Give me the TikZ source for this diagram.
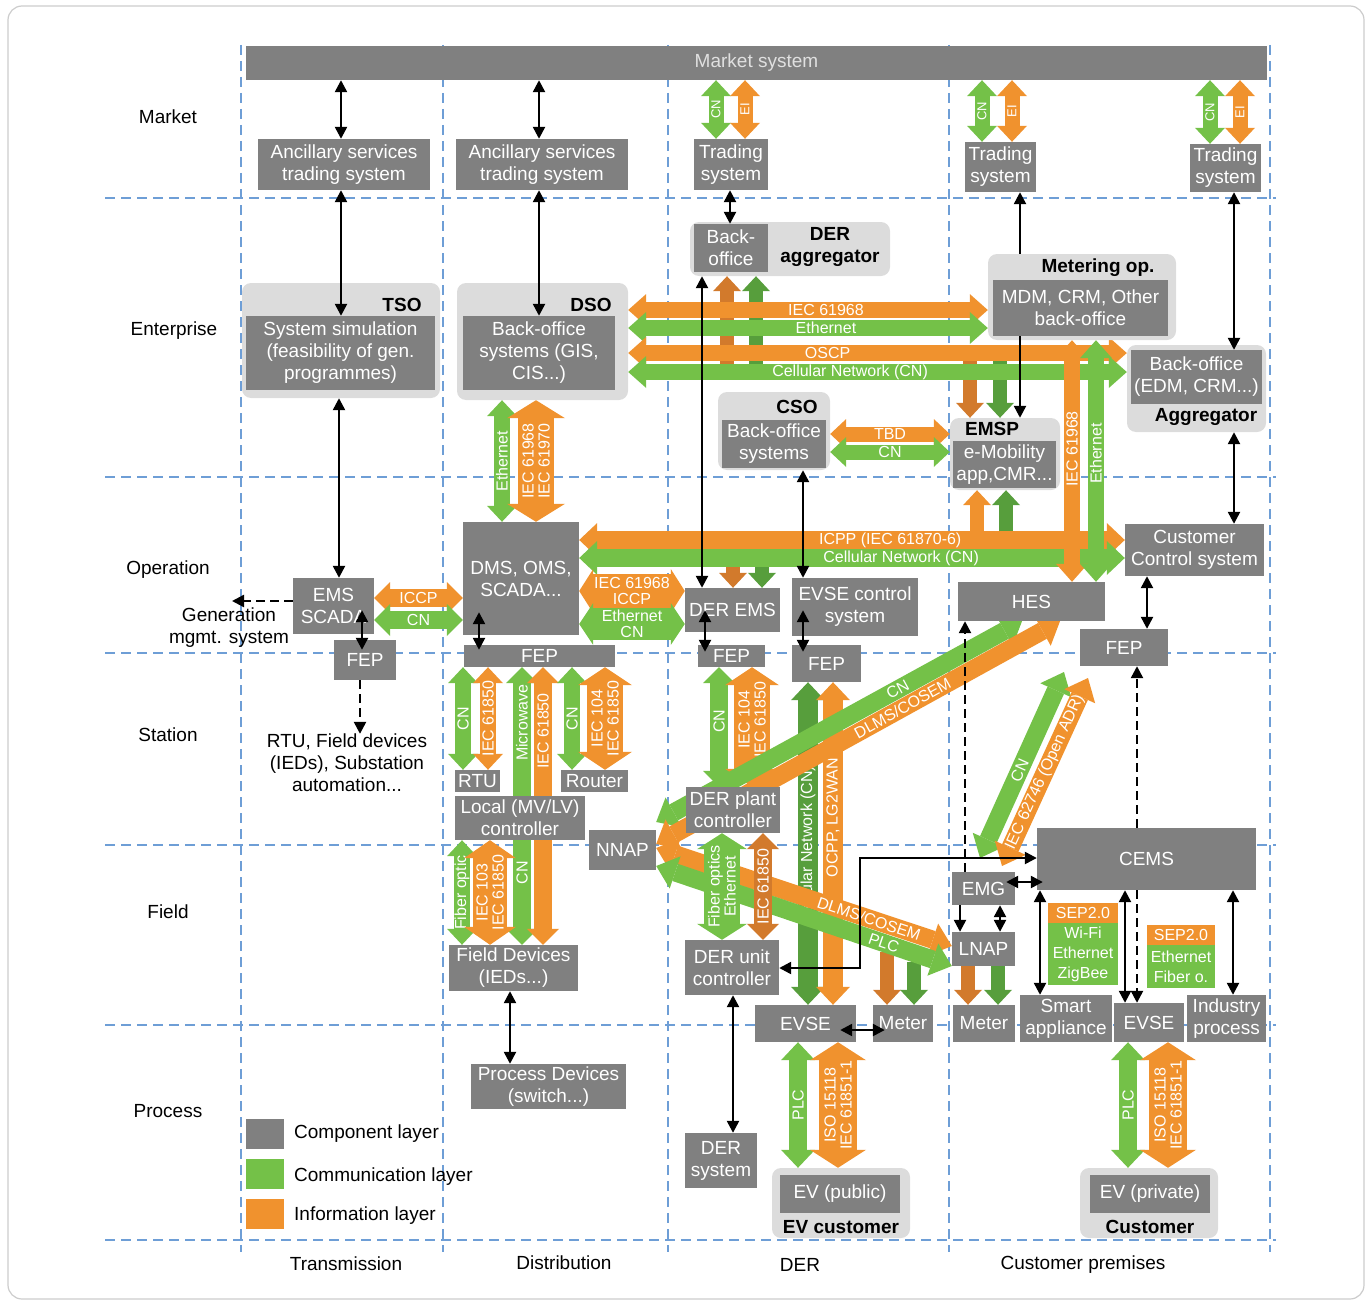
\documentclass[tikz,border=0pt]{standalone}
\usepackage{fontspec}
\setmainfont{Liberation Sans}
\usetikzlibrary{arrows.meta}
\pgfdeclarelayer{bg}
\pgfdeclarelayer{arr}
\pgfdeclarelayer{fg}
\pgfsetlayers{bg,arr,main,fg}
\definecolor{cgray}{HTML}{808080}
\definecolor{lgray}{HTML}{DCDCDC}
\definecolor{cor}{HTML}{F0922E}
\definecolor{corD}{HTML}{D27A2C}
\definecolor{cgr}{HTML}{74C148}
\definecolor{cgrD}{HTML}{579E3C}
\definecolor{gridblue}{HTML}{6E9ED6}
\newcommand\fszA{\fontsize{19}{22}\selectfont}
\newcommand\fszL{\fontsize{16}{16}\selectfont}
\newcommand\fszS{\fontsize{13}{13}\selectfont}
\newcommand\fszM{\fontsize{16}{20}\selectfont}
\tikzset{
  box/.style={fill=cgray, text=white, inner sep=0pt, align=center, font=\fszA},
  grp/.style={fill=lgray, rounded corners=9pt, inner sep=0pt},
  boldlbl/.style={font=\fszA\bfseries, text=black, inner sep=0pt, align=center},
  rowlbl/.style={font=\fszA, text=black, inner sep=0pt, align=center},
  blk/.style={line width=2.4pt, {Triangle[length=12pt,width=12pt]}-{Triangle[length=12pt,width=12pt]}},
  blks/.style={line width=2.4pt, -{Triangle[length=12pt,width=12pt]}},
  dsh/.style={line width=2.4pt, dash pattern=on 9pt off 5pt, -{Triangle[length=12pt,width=12pt]}},
  gridl/.style={draw=gridblue, line width=1.4pt, dash pattern=on 10pt off 6pt},
  ba/.style n args={3}{line width=#1, {Triangle[length=#3,width=#2,line width=0pt]}-{Triangle[length=#3,width=#2,line width=0pt]}},
  bs/.style n args={3}{line width=#1, -{Triangle[length=#3,width=#2,line width=0pt]}},
  lab/.style={sloped, font=\fszL, text=white, inner sep=0pt, align=center},
}
\newcommand\bx[7][]{\node[box,#1, minimum width={#5-#3}, minimum height={#6-#4}] (#2) at ({(#3+#5)/2},{(#4+#6)/2}) {#7};}
\newcommand\gp[5]{\node[grp, minimum width={#4-#2}, minimum height={#5-#3}] (#1) at ({(#2+#4)/2},{(#3+#5)/2}) {};}
\begin{document}
\begin{tikzpicture}[x=1pt,y=-1pt]
\useasboundingbox (0,0) rectangle (1371,1303);
\begin{pgfonlayer}{bg}
\draw[black!20, line width=1.2pt, rounded corners=14pt] (8,6) rectangle (1364,1299);
\foreach \x in {241,443,668,949,1270} \draw[gridl] (\x,45) -- (\x,1252);
\foreach \y in {198,477,653,845,1025,1240} \draw[gridl] (105,\y) -- (1276,\y);
\end{pgfonlayer}

% ---------- row / column labels
\node[rowlbl] (rMarket) at (168,117) {Market};
\node[rowlbl] (rEnt) at (174,331) {Enterprise};
\node[rowlbl] (rOp) at (168,570) {Operation};
\node[rowlbl] (rSt) at (168,735) {Station};
\node[rowlbl] (rFi) at (168,912) {Field};
\node[rowlbl] (rPr) at (168,1111) {Process};
\node[rowlbl] (cTr) at (346,1264) {Transmission};
\node[rowlbl] (cDi) at (564,1263) {Distribution};
\node[rowlbl] (cDe) at (800,1265) {DER};
\node[rowlbl] (cCu) at (1083,1265) {Customer premises};

% ---------- groups
\gp{tsog}{242}{283}{440}{398}
\gp{dsog}{457}{283}{628}{400}
\gp{derg}{690}{222}{890}{276}
\gp{metg}{988}{254}{1176}{340}
\gp{aggg}{1127}{345}{1266}{432}
\gp{csog}{718}{392}{830}{470}
\gp{emspg}{950}{418}{1060}{490}
\gp{evpubg}{772}{1168}{910}{1238}
\gp{evprivg}{1080}{1168}{1218}{1238}

% ---------- boxes
\bx[text=white!88!black]{mkt}{246}{46}{1267}{80}{Market system}
\bx{anc1}{258}{139}{430}{190}{Ancillary services\\trading system}
\bx{anc2}{456}{139}{628}{190}{Ancillary services\\trading system}
\bx{tr1}{694}{139}{768}{190}{Trading\\system}
\bx{tr2}{965}{142}{1036}{192}{Trading\\system}
\bx{tr3}{1190}{144}{1261}{192}{Trading\\system}

\bx{tso}{246}{316}{435}{390}{System simulation\\(feasibility of gen.\\programmes)}
\bx{dso}{463}{316}{615}{390}{Back-office\\systems (GIS,\\CIS...)}
\bx{derbo}{694}{224}{768}{272}{Back-\\office}
\bx{met}{993}{280}{1168}{336}{MDM, CRM, Other\\back-office}
\bx{agg}{1131}{350}{1262}{404}{Back-office\\(EDM, CRM...)}
\bx{cso}{722}{420}{826}{468}{Back-office\\systems}
\bx{emsp}{953}{441}{1056}{488}{e-Mobility\\app,CMR...}
\bx{evpub}{780}{1175}{900}{1213}{EV (public)}
\bx{evpriv}{1090}{1175}{1210}{1213}{EV (private)}

\node[boldlbl] (tsol) at (402,305) {TSO};
\node[boldlbl] (dsol) at (591,305) {DSO};
\node[boldlbl] (derl) at (830,247) {DER\\aggregator};
\node[boldlbl] (metl) at (1098,268) {Metering op.};
\node[boldlbl] (aggl) at (1206,417) {Aggregator};
\node[boldlbl] (csol) at (797,407) {CSO};
\node[boldlbl] (emspl) at (992,429) {EMSP};
\node[boldlbl] (evpubl) at (841,1227) {EV customer};
\node[boldlbl] (evprivl) at (1150,1227) {Customer};

\bx{ems}{293}{578}{374}{634}{EMS\\SCADA}
\bx{fepT}{334}{640}{396}{680}{FEP}
\bx{dms}{463}{522}{579}{635}{DMS, OMS,\\SCADA...}
\bx{fepD}{464}{645}{615}{667}{FEP}
\bx{derems}{685}{588}{780}{632}{DER EMS}
\bx{fepR}{698}{645}{765}{667}{FEP}
\bx{evsec}{792}{578}{918}{636}{EVSE control\\system}
\bx{fepE}{792}{645}{861}{682}{FEP}
\bx{hes}{958}{582}{1105}{621}{HES}
\bx{cust}{1125}{524}{1264}{576}{Customer\\Control system}
\bx{fepC}{1080}{629}{1168}{666}{FEP}

\node[rowlbl] (gentxt) at (229,628) {Generation\\mgmt. system};
\node[rowlbl] (rtutxt) at (347,763) {RTU, Field devices\\(IEDs), Substation\\automation...};

\bx{rtu}{455}{770}{500}{792}{RTU}
\bx{router}{561}{770}{628}{792}{Router}
\bx{local}{455}{796}{585}{840}{Local (MV/LV)\\controller}
\bx{derpc}{686}{787}{780}{833}{DER plant\\controller}
\bx{nnap}{589}{830}{656}{870}{NNAP}

\bx{field}{449}{945}{578}{991}{Field Devices\\(IEDs...)}
\bx{deruc}{685}{940}{779}{995}{DER unit\\controller}
\bx{emg}{952}{872}{1015}{905}{EMG}
\bx{lnap}{952}{932}{1015}{966}{LNAP}
\bx{cems}{1037}{828}{1256}{890}{CEMS}
\bx[fill=cor, font=\fszM]{sep1o}{1048}{903}{1118}{923}{SEP2.0}
\bx[fill=cgr, font=\fszM]{sep1g}{1048}{923}{1118}{985}{Wi-Fi\\Ethernet\\ZigBee}
\bx[fill=cor, font=\fszM]{sep2o}{1147}{925}{1215}{945}{SEP2.0}
\bx[fill=cgr, font=\fszM]{sep2g}{1147}{945}{1215}{988}{Ethernet\\Fiber o.}

\bx{proc}{471}{1064}{626}{1109}{Process Devices\\(switch...)}
\bx{dersys}{685}{1133}{757}{1188}{DER\\system}
\bx{evse1}{755}{1005}{856}{1042}{EVSE}
\bx{meter1}{873}{1005}{933}{1042}{Meter}
\bx{meter2}{953}{1005}{1015}{1042}{Meter}
\bx{smart}{1020}{995}{1112}{1042}{Smart\\appliance}
\bx{evse2}{1114}{1003}{1184}{1042}{EVSE}
\bx{ind}{1187}{995}{1266}{1042}{Industry\\process}

% legend
\bx{lg1}{246}{1119}{284}{1149}{}
\bx[fill=cgr]{lg2}{246}{1159}{284}{1189}{}
\bx[fill=cor]{lg3}{246}{1199}{284}{1229}{}
\node[rowlbl, anchor=west] (lt1) at (294,1134) {Component layer};
\node[rowlbl, anchor=west] (lt2) at (294,1177) {Communication layer};
\node[rowlbl, anchor=west] (lt3) at (294,1216) {Information layer};

% ---------- helper coordinates
\coordinate (yIEC) at (0,310);
\coordinate (yEth) at (0,328);
\coordinate (yOS) at (0,353);
\coordinate (yCN) at (0,372);
\coordinate (yICP) at (0,540);
\coordinate (yCel) at (0,558);
\coordinate (genend) at (232,601);
\coordinate (corner) at (860,858);
\coordinate (dg1) at (980,858);
\coordinate (dg1e) at (1064,672);
\coordinate (dg2) at (1002,866);
\coordinate (dg2e) at (1088,678);
\coordinate (mdiag1) at (887,952);
\coordinate (mdiag2) at (914,962);

% ---------- block arrows
\begin{pgfonlayer}{arr}
% market
\foreach \xa/\xb/\bb in {716/745/tr1, 982/1012/tr2, 1210/1240/tr3}{
  \draw[ba={15pt}{30pt}{16pt}, cgr] (\xa,0 |- \bb.north) -- node[lab, font=\fszS]{CN} (\xa,0 |- mkt.south);
  \draw[ba={15pt}{30pt}{16pt}, cor] (\xb,0 |- \bb.north) -- node[lab, font=\fszS]{EI} (\xb,0 |- mkt.south);
}
% small arrows behind bands
\draw[bs={14pt}{28pt}{15pt}, corD] (727,0 |- yCN) -- (727,0 |- derg.south);
\draw[bs={14pt}{28pt}{15pt}, cgrD] (756,0 |- yCN) -- (756,0 |- derg.south);
\draw[bs={14pt}{28pt}{15pt}, corD] (970,0 |- yOS) -- (970,0 |- emspg.north);
\draw[bs={14pt}{28pt}{15pt}, cgrD] (1000,0 |- yOS) -- (1000,0 |- emspg.north);
\draw[bs={14pt}{28pt}{15pt}, corD] (733,0 |- yICP) -- (733,0 |- derems.north);
\draw[bs={14pt}{28pt}{15pt}, cgrD] (762,0 |- yICP) -- (762,0 |- derems.north);
\draw[bs={14pt}{28pt}{15pt}, cor] (977,0 |- yCel) -- (977,0 |- emspg.south);
\draw[bs={14pt}{28pt}{15pt}, cgrD] (1006,0 |- yCel) -- (1006,0 |- emspg.south);
% enterprise bands
\draw[ba={16pt}{32pt}{18pt}, cor] (dsog.east |- yIEC) -- node[lab, pos=.55]{IEC 61968} (metg.west |- yIEC);
\draw[ba={16pt}{32pt}{18pt}, cgr] (dsog.east |- yEth) -- node[lab, pos=.55]{Ethernet} (metg.west |- yEth);
\draw[ba={16pt}{32pt}{18pt}, cor] (dsog.east |- yOS) -- node[lab, pos=.4]{OSCP} (aggg.west |- yOS);
\draw[ba={16pt}{32pt}{18pt}, cgr] (dsog.east |- yCN) -- node[lab, pos=.445]{Cellular Network (CN)} (aggg.west |- yCN);
% DSO - DMS
\draw[ba={16pt}{30pt}{16pt}, cgr] (502,0 |- dms.north) -- node[lab]{Ethernet} (502,0 |- dsog.south);
\draw[ba={36pt}{58pt}{18pt}, cor] (536,0 |- dms.north) -- node[lab]{IEC 61968\\IEC 61970} (536,0 |- dsog.south);
% CSO - EMSP
\draw[ba={15pt}{30pt}{16pt}, cor] (csog.east |- 0,434) -- node[lab]{TBD} (emspg.west |- 0,434);
\draw[ba={15pt}{30pt}{16pt}, cgr] (csog.east |- 0,452) -- node[lab]{CN} (emspg.west |- 0,452);
% operation band
\draw[ba={18pt}{34pt}{18pt}, cor] (dms.east |- yICP) -- node[lab, pos=.57]{ICPP (IEC 61870-6)} (cust.west |- yICP);
\draw[ba={18pt}{34pt}{18pt}, cgr] (dms.east |- yCel) -- node[lab, pos=.59]{Cellular Network (CN)} (cust.west |- yCel);
% EMS - DMS
\draw[ba={18pt}{32pt}{16pt}, cor] (ems.east |- 0,598) -- node[lab]{ICCP} (dms.west |- 0,598);
\draw[ba={18pt}{32pt}{16pt}, cgr] (ems.east |- 0,620) -- node[lab]{CN} (dms.west |- 0,620);
% DMS - DER EMS
\draw[ba={34pt}{44pt}{14pt}, cor] (dms.east |- 0,591) -- node[lab]{IEC 61968\\ICCP} (derems.west |- 0,591);
\draw[ba={32pt}{42pt}{14pt}, cgr] (dms.east |- 0,624) -- node[lab]{Ethernet\\CN} (derems.west |- 0,624);
% metering - HES
\draw[ba={16pt}{32pt}{18pt}, cor] (1072,0 |- hes.north) -- node[lab, pos=.55]{IEC 61968} (1072,0 |- metg.south);
\draw[ba={16pt}{32pt}{18pt}, cgr] (1096,0 |- hes.north) -- node[lab, pos=.53]{Ethernet} (1096,0 |- metg.south);
% station
\draw[ba={16pt}{30pt}{16pt}, cgr] (463,0 |- rtu.north) -- node[lab]{CN} (463,0 |- fepD.south);
\draw[ba={16pt}{30pt}{16pt}, cor] (488,0 |- rtu.north) -- node[lab]{IEC 61850} (488,0 |- fepD.south);
\draw[ba={18pt}{32pt}{16pt}, cgr] (522,0 |- field.north) -- node[lab, pos=.26]{CN} node[lab, pos=.8]{Microwave} (522,0 |- fepD.south);
\draw[ba={18pt}{32pt}{16pt}, cor] (543,0 |- field.north) -- node[lab, pos=.77]{IEC 61850} (543,0 |- fepD.south);
\draw[ba={16pt}{30pt}{16pt}, cgr] (572,0 |- router.north) -- node[lab]{CN} (572,0 |- fepD.south);
\draw[ba={36pt}{54pt}{18pt}, cor] (605,0 |- router.north) -- node[lab]{IEC 104\\IEC 61850} (605,0 |- fepD.south);
\draw[ba={18pt}{32pt}{16pt}, cgr] (719,0 |- derpc.north) -- node[lab, pos=.55]{CN} (719,0 |- fepR.south);
\draw[ba={36pt}{54pt}{18pt}, cor] (752,0 |- derpc.north) -- node[lab, pos=.56]{IEC 104\\IEC 61850} (752,0 |- fepR.south);
\draw[ba={20pt}{34pt}{18pt}, cgrD] (808,0 |- evse1.north) -- node[lab, pos=.5]{Cellular Network (CN)} (808,0 |- fepE.south);
\draw[ba={20pt}{34pt}{18pt}, cor] (833,0 |- evse1.north) -- node[lab, pos=.58]{OCPP, LG2WAN} (833,0 |- fepE.south);
% field
\draw[ba={16pt}{30pt}{16pt}, cgr] (462,0 |- field.north) -- node[lab]{Fiber optic} (462,0 |- local.south);
\draw[ba={34pt}{52pt}{18pt}, cor] (490,0 |- field.north) -- node[lab]{IEC 103\\IEC 61850} (490,0 |- local.south);
\draw[bs={14pt}{28pt}{15pt}, corD] (mdiag1) -- (mdiag1 |- meter1.north);
\draw[bs={14pt}{28pt}{15pt}, cgrD] (mdiag2) -- (mdiag2 |- meter1.north);
\draw[bs={14pt}{28pt}{15pt}, corD] (968,0 |- lnap.south) -- (968,0 |- meter2.north);
\draw[bs={14pt}{28pt}{15pt}, cgrD] (998,0 |- lnap.south) -- (998,0 |- meter2.north);
% process
\draw[ba={18pt}{34pt}{18pt}, cgr] (798,0 |- evpubg.north) -- node[lab]{PLC} (798,0 |- evse1.south);
\draw[ba={38pt}{56pt}{18pt}, cor] (838,0 |- evpubg.north) -- node[lab]{ISO 15118\\IEC 61851-1} (838,0 |- evse1.south);
\draw[ba={18pt}{34pt}{18pt}, cgr] (1128,0 |- evprivg.north) -- node[lab]{PLC} (1128,0 |- evse2.south);
\draw[ba={38pt}{56pt}{18pt}, cor] (1168,0 |- evprivg.north) -- node[lab]{ISO 15118\\IEC 61851-1} (1168,0 |- evse2.south);
% diagonals
\draw[ba={18pt}{34pt}{20pt}, cgr] (nnap.east |- 0,822) -- node[lab, pos=.66]{CN} (1022,0 |- hes.south);
\draw[ba={18pt}{34pt}{20pt}, cor] (nnap.east |- 0,844) -- node[lab, pos=.61]{DLMS/COSEM} (1060,0 |- hes.south);
\draw[ba={18pt}{34pt}{20pt}, cor] (nnap.east |- 0,848) -- node[lab, pos=.72]{DLMS/COSEM} (lnap.west |- 0,946);
\draw[ba={18pt}{34pt}{20pt}, cgr] (nnap.east |- 0,866) -- node[lab, pos=.77]{PLC} (lnap.west |- 0,966);
\draw[ba={18pt}{34pt}{20pt}, cgr] (dg1) -- node[lab, pos=.47]{CN} (dg1e);
\draw[ba={18pt}{34pt}{20pt}, cor] (dg2) -- node[lab, pos=.5]{IEC 62746 (Open ADR)} (dg2e);
% DER plant - DER unit (over the diagonals)
\draw[ba={36pt}{50pt}{16pt}, cgr] (722,0 |- deruc.north) -- node[lab]{Fiber optics\\Ethernet} (722,0 |- derpc.south);
\draw[ba={18pt}{32pt}{16pt}, corD] (763,0 |- deruc.north) -- node[lab]{IEC 61850} (763,0 |- derpc.south);
\end{pgfonlayer}

% ---------- black arrows
\begin{pgfonlayer}{fg}
\draw[blk] (341,0 |- mkt.south) -- (341,0 |- anc1.north);
\draw[blk] (539,0 |- mkt.south) -- (539,0 |- anc2.north);
\draw[blk] (341,0 |- anc1.south) -- (341,0 |- tso.north);
\draw[blk] (539,0 |- anc2.south) -- (539,0 |- dso.north);
\draw[blk] (339,0 |- tsog.south) -- (339,0 |- ems.north);
\draw[blk] (730,0 |- tr1.south) -- (730,0 |- derbo.north);
\draw[blk] (702,0 |- derg.south) -- (702,0 |- derems.north);
\draw[blks] (1020,0 |- metg.north) -- (1020,0 |- tr2.south);
\draw[blks] (1020,0 |- met.south) -- (1020,0 |- emspg.north);
\draw[blk] (1234,0 |- tr3.south) -- (1234,0 |- agg.north);
\draw[blk] (1234,0 |- aggg.south) -- (1234,0 |- cust.north);
\draw[blk] (803,0 |- csog.south) -- (803,0 |- evsec.north);
\draw[dsh] (ems.west |- genend) -- (genend);
\draw[blk] ([yshift=24pt]362,0 |- ems.south) -- ([yshift=-10pt]362,0 |- fepT.north);
\draw[dsh] (360,0 |- fepT.south) -- (360,0 |- rtutxt.north);
\draw[blk] ([yshift=23pt]479,0 |- dms.south) -- ([yshift=-5pt]479,0 |- fepD.north);
\draw[blk] ([yshift=22pt]705,0 |- derems.south) -- ([yshift=-7pt]705,0 |- fepR.north);
\draw[blk] ([yshift=26pt]803,0 |- evsec.south) -- ([yshift=-7pt]803,0 |- fepE.north);
\draw[blk] (1147,0 |- cust.south) -- (1147,0 |- fepC.north);
\draw[dsh] (965,0 |- emg.north) -- (965,0 |- hes.south);
\draw[dsh] (1137,0 |- cems.north) -- (1137,0 |- fepC.south);
\draw[dsh] (1137,0 |- cems.south) -- (1137,0 |- evse2.north);
\draw[blk] (deruc.east |- 0,968) -| (corner) -- (cems.west |- corner);
\draw[blks] (960,0 |- emg.south) -- (960,0 |- lnap.north);
\draw[blk] (1000,0 |- emg.south) -- (1000,0 |- lnap.north);
\draw[blk] ([xshift=-9pt]emg.east |- 0,882) -- ([xshift=6pt]cems.west |- 0,882);
\draw[blk] (1040,0 |- cems.south) -- (1040,0 |- smart.north);
\draw[blk] (1125,0 |- cems.south) -- (1125,0 |- evse2.north);
\draw[blk] (1233,0 |- cems.south) -- (1233,0 |- ind.north);
\draw[blk] (510,0 |- field.south) -- (510,0 |- proc.north);
\draw[blk] (733,0 |- deruc.south) -- (733,0 |- dersys.north);
\draw[blk] ([xshift=-16pt]evse1.east |- 0,1030) -- ([xshift=12pt]meter1.west |- 0,1030);
\end{pgfonlayer}
\end{tikzpicture}
\end{document}
